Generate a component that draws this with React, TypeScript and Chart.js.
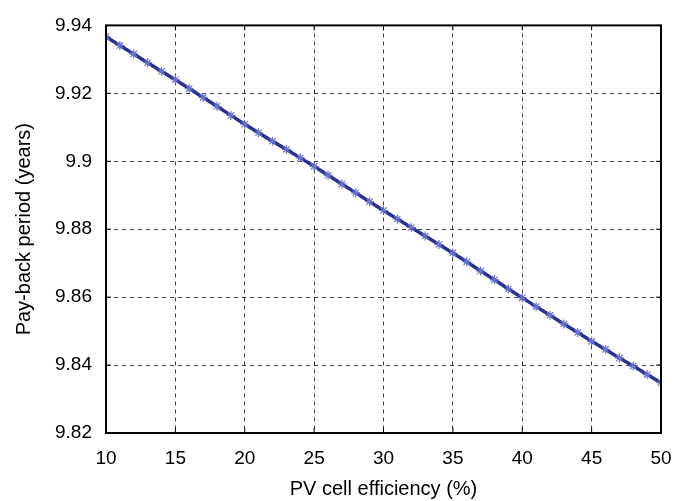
import React, { useEffect, useRef } from "react";
import { Chart, registerables } from "chart.js";

Chart.register(...registerables);

const efficiency: number[] = [
  10, 11, 12, 13, 14, 15, 16, 17, 18, 19, 20, 21, 22, 23, 24, 25, 26, 27, 28, 29, 30,
  31, 32, 33, 34, 35, 36, 37, 38, 39, 40, 41, 42, 43, 44, 45, 46, 47, 48, 49, 50,
];
const paybackYears: number[] = [
  9.9367, 9.9341, 9.9316, 9.929, 9.9265, 9.924, 9.9214, 9.9188, 9.9162, 9.9135, 9.9109,
  9.9084, 9.9059, 9.9035, 9.901, 9.8985, 9.8959, 9.8933, 9.8907, 9.8881, 9.8855,
  9.883, 9.8805, 9.878, 9.8755, 9.873, 9.8704, 9.8677, 9.8651, 9.8624, 9.8598,
  9.8572, 9.8547, 9.8521, 9.8496, 9.847, 9.8446, 9.8421, 9.8397, 9.8372, 9.8348,
];
const xTicks: number[] = [10, 15, 20, 25, 30, 35, 40, 45, 50];
const yTicks: number[] = [9.82, 9.84, 9.86, 9.88, 9.9, 9.92, 9.94];
const yTickLabels: string[] = ["9.82", "9.84", "9.86", "9.88", "9.9", "9.92", "9.94"];

const FONT = "'Liberation Sans', Arial, sans-serif";

const boxPlugin = {
  id: "boxPlugin",
  afterDatasetsDraw(chart: any) {
    const { ctx, chartArea } = chart;
    const { left, right, top, bottom } = chartArea;
    ctx.save();
    ctx.strokeStyle = "#000";
    ctx.lineWidth = 2;
    ctx.setLineDash([]);
    ctx.strokeRect(left, top, right - left, bottom - top);
    const xs = chart.scales.x;
    const ys = chart.scales.y;
    const t = 5;
    ctx.lineWidth = 1;
    ctx.beginPath();
    yTicks.forEach((v) => {
      const py = ys.getPixelForValue(v);
      ctx.moveTo(left, py);
      ctx.lineTo(left + t, py);
      ctx.moveTo(right, py);
      ctx.lineTo(right - t, py);
    });
    xTicks.forEach((v) => {
      const px = xs.getPixelForValue(v);
      ctx.moveTo(px, bottom);
      ctx.lineTo(px, bottom - t);
      ctx.moveTo(px, top);
      ctx.lineTo(px, top + t);
    });
    ctx.stroke();
    ctx.restore();
  },
};

export default function App() {
  const ref = useRef<HTMLCanvasElement>(null);
  useEffect(() => {
    document.body.style.margin = "0";
    const canvas = ref.current;
    if (!canvas) return;
    const chart = new Chart(canvas, {
      type: "line",
      data: {
        datasets: [
          {
            data: efficiency.map((x, i) => ({ x, y: paybackYears[i] })),
            borderColor: "rgb(40,48,145)",
            borderWidth: 3.5,
            pointStyle: "star",
            pointRadius: 4.5,
            pointBorderColor: "rgb(105,115,205)",
            pointBackgroundColor: "rgb(105,115,205)",
            pointBorderWidth: 1.2,
            tension: 0,
            fill: false,
          },
        ],
      },
      options: {
        animation: false,
        responsive: false,
        devicePixelRatio: 1,
        layout: { padding: { left: 0, right: 28, top: 22, bottom: 0 } },
        plugins: { legend: { display: false }, tooltip: { enabled: false } },
        scales: {
          x: {
            type: "linear",
            min: 10,
            max: 50,
            afterBuildTicks: (s: any) => {
              s.ticks = xTicks.map((v) => ({ value: v }));
            },
            afterFit: (s: any) => {
              s.height = 68;
            },
            ticks: {
              color: "#000",
              font: { family: FONT, size: 19 },
              padding: 14,
              maxRotation: 0,
              callback: (v: any) => String(v),
            },
            grid: {
              color: "rgba(0,0,0,0.75)",
              lineWidth: 1,
              drawTicks: false,
            },
            border: { display: false, dash: [4, 4] },
            title: {
              display: true,
              text: "PV cell efficiency (%)",
              color: "#000",
              font: { family: FONT, size: 20 },
              padding: { top: 4, bottom: 0 },
            },
          },
          y: {
            type: "linear",
            min: 9.82,
            max: 9.94,
            afterBuildTicks: (s: any) => {
              s.ticks = yTicks.map((v) => ({ value: v }));
            },
            afterFit: (s: any) => {
              s.width = 106;
            },
            ticks: {
              color: "#000",
              font: { family: FONT, size: 19 },
              padding: 14,
              callback: (_v: any, i: number) => yTickLabels[i],
            },
            grid: {
              color: "rgba(0,0,0,0.75)",
              lineWidth: 1,
              drawTicks: false,
            },
            border: { display: false, dash: [4, 4] },
            title: {
              display: true,
              text: "Pay-back period (years)",
              color: "#000",
              font: { family: FONT, size: 20 },
              padding: { top: 12, bottom: 0 },
            },
          },
        },
      },
      plugins: [boxPlugin],
    });
    return () => chart.destroy();
  }, []);
  return (
    <div style={{ width: 689, height: 501, background: "#fff" }}>
      <canvas ref={ref} width={689} height={501} />
    </div>
  );
}
